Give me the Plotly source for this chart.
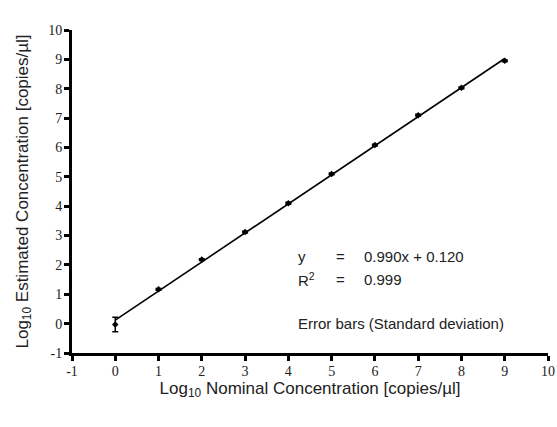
import plotly.graph_objects as go

nominal = [0, 1, 2, 3, 4, 5, 6, 7, 8, 9]
estimated = [-0.03, 1.17, 2.18, 3.12, 4.10, 5.10, 6.08, 7.10, 8.03, 8.95]
sd = [0.25, 0.03, 0.03, 0.03, 0.03, 0.03, 0.03, 0.03, 0.03, 0.03]
slope = 0.990
intercept = 0.120
fit_x = [0, 9]
ticks = list(range(-1, 11))

fig = go.Figure()
fig.add_trace(go.Scatter(
    x=fit_x, y=[slope * v + intercept for v in fit_x], mode="lines",
    line=dict(color="black", width=1.6), showlegend=False, hoverinfo="skip"))
fig.add_trace(go.Scatter(
    x=nominal, y=estimated, mode="markers",
    marker=dict(color="black", size=5, symbol="diamond"),
    error_y=dict(type="data", array=sd, visible=True, color="black", thickness=1.5, width=3),
    showlegend=False))

axis_common = dict(
    range=[-1, 10], tickvals=ticks, ticktext=[str(t) for t in ticks],
    showgrid=False, zeroline=False, showline=True, linecolor="black", linewidth=3,
    ticks="outside", ticklen=5, tickwidth=2.5, tickcolor="black", automargin=False,
    tickfont=dict(family="Liberation Serif, Times New Roman, serif", size=14, color="#222"),
    title_font=dict(family="Liberation Sans, Arial, sans-serif", size=17, color="#222"),
)
fig.update_xaxes(**axis_common, title_text="Log<sub>10</sub> Nominal Concentration [copies/µl]",
                 title_standoff=0, ticklabelstandoff=-2)
fig.update_yaxes(**axis_common, title_text="Log<sub>10</sub> Estimated Concentration [copies/µl]",
                 title_standoff=16, ticklabelstandoff=-1)

afont = dict(family="Liberation Sans, Arial, sans-serif", size=15, color="#222")
ann = [
    (4.18, 2.27, "y", "left"),
    (5.2, 2.27, "=", "center"),
    (5.7, 2.27, "0.990x + 0.120", "left"),
    (4.18, 1.52, "R<sup>2</sup>", "left"),
    (5.2, 1.52, "=", "center"),
    (5.7, 1.52, "0.999", "left"),
    (4.18, -0.01, "Error bars (Standard deviation)", "left"),
]
for x, y, t, xa in ann:
    fig.add_annotation(x=x, y=y, text=t, showarrow=False, xanchor=xa, yanchor="middle", font=afont)

fig.update_layout(
    width=557, height=427, plot_bgcolor="white", paper_bgcolor="white",
    margin=dict(l=72, r=9, t=30, b=74),
)
fig.write_html("out.html", config={"displayModeBar": False})
with open("out.html", encoding="utf-8") as f:
    html = f.read()
html = html.replace("<body>", '<body style="margin:0;padding:0;overflow:hidden">', 1)
with open("out.html", "w", encoding="utf-8") as f:
    f.write(html)
